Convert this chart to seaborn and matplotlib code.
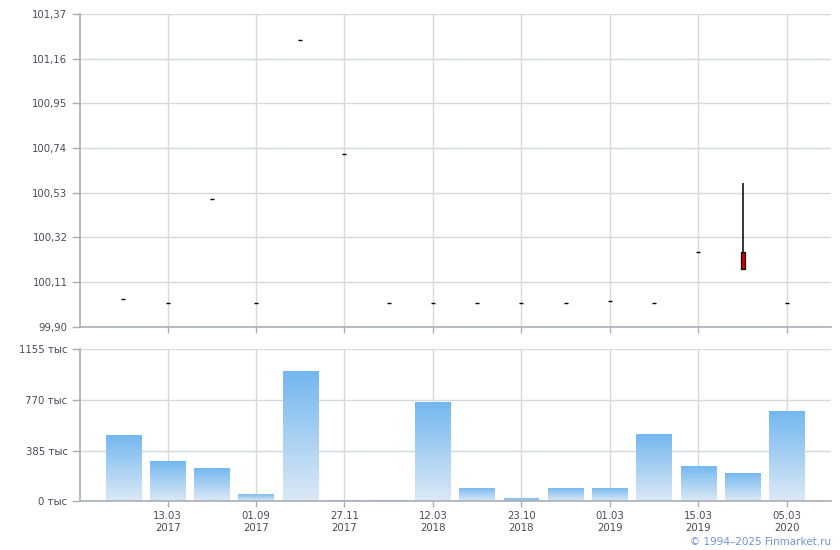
import numpy as np
import pandas as pd
import matplotlib
matplotlib.use("Agg")
import matplotlib.pyplot as plt
import seaborn as sns
from matplotlib.colors import LinearSegmentedColormap

# ---- data ----
idx = list(range(16))
open_ = [100.03, 100.01, 100.50, 100.01, 101.25, 100.71, 100.01, 100.01,
         100.01, 100.01, 100.01, 100.02, 100.01, 100.25, 100.25, 100.01]
close = [100.03, 100.01, 100.50, 100.01, 101.25, 100.71, 100.01, 100.01,
         100.01, 100.01, 100.01, 100.02, 100.01, 100.25, 100.17, 100.01]
high = [100.03, 100.01, 100.50, 100.01, 101.25, 100.71, 100.01, 100.01,
        100.01, 100.01, 100.01, 100.02, 100.01, 100.25, 100.575, 100.01]
low = [100.03, 100.01, 100.50, 100.01, 101.25, 100.71, 100.01, 100.01,
       100.01, 100.01, 100.01, 100.02, 100.01, 100.25, 100.17, 100.01]
volume = [503, 306, 253, 55, 989, 10, 10, 754, 101, 25, 101, 101, 511, 268, 215, 686]

price_ticks = [99.90, 100.11, 100.32, 100.53, 100.74, 100.95, 101.16, 101.37]
vol_ticks = [0, 385, 770, 1155]
date_tick_pos = [1, 3, 5, 7, 9, 11, 13, 15]
date_labels = ["13.03\n2017", "01.09\n2017", "27.11\n2017", "12.03\n2018",
               "23.10\n2018", "01.03\n2019", "15.03\n2019", "05.03\n2020"]

df = pd.DataFrame({"idx": idx, "open": open_, "close": close,
                   "high": high, "low": low, "volume": volume})

sns.set_theme(style="white")
plt.rcParams["font.family"] = ["DejaVu Sans"]

TXT = "#4a4a5a"
GRID = "#d3d9dd"
SPINE = "#a9aeb6"

fig = plt.figure(figsize=(8.4, 5.5), dpi=100)
ax1 = fig.add_axes([80/840, 1-326.7/550, 751/840, (326.7-14)/550])
ax2 = fig.add_axes([80/840, 1-501.3/550, 751/840, (501.3-349.3)/550])

# ---- price panel ----
body_w = 0.045
for _, r in df.iterrows():
    x = r["idx"]
    if r["high"] > max(r["open"], r["close"]) or r["low"] < min(r["open"], r["close"]):
        ax1.vlines(x, r["low"], r["high"], color="black", lw=1.1, zorder=3)
    if abs(r["open"] - r["close"]) < 1e-9:
        ax1.hlines(r["close"], x - body_w, x + body_w, color="black", lw=1.0, zorder=4)
    else:
        bottom = min(r["open"], r["close"])
        col = "#d40000" if r["close"] < r["open"] else "#ffffff"
        ax1.bar(x, abs(r["open"] - r["close"]), bottom=bottom, width=2*body_w,
                color=col, edgecolor="black", linewidth=0.9, zorder=4)

ax1.set_xlim(-0.98, 16.0)
ax1.set_ylim(price_ticks[0], price_ticks[-1])
ax1.set_yticks(price_ticks)
ax1.set_yticklabels([f"{v:.2f}".replace(".", ",") for v in price_ticks])
ax1.set_xticks(date_tick_pos)
ax1.set_xticklabels([])

# ---- volume panel ----
sns.barplot(data=df, x="idx", y="volume", ax=ax2, width=0.8,
            color="#8ec4ef", saturation=1, zorder=2)
ax2.set_xlim(-0.98, 16.0)
ax2.set_ylim(0, 1155)
ax2.set_yticks(vol_ticks)
ax2.set_yticklabels([f"{v} тыс" for v in vol_ticks])
ax2.set_xticks(date_tick_pos)
ax2.set_xticklabels(date_labels)
ax2.set_xlabel("")
ax2.set_ylabel("")

cmap = LinearSegmentedColormap.from_list("g", ["#dce9f6", "#72b7ef"])
grad = np.linspace(0, 1, 256).reshape(-1, 1)
for p in list(ax2.patches):
    x0, y0 = p.get_x(), p.get_y()
    w, h = p.get_width(), p.get_height()
    if h <= 40:
        p.set_edgecolor("none")
        continue
    im = ax2.imshow(grad, cmap=cmap, origin="lower", aspect="auto",
                    extent=[x0, x0 + w, y0, y0 + h], zorder=2.5)
    im.set_clip_path(p)
    p.set_facecolor("none")
    p.set_edgecolor("none")
ax2.set_xlim(-0.98, 16.0)
ax2.set_ylim(0, 1155)

for ax in (ax1, ax2):
    ax.grid(True, color=GRID, lw=1, zorder=0)
    ax.set_axisbelow(True)
    for s in ("top", "right"):
        ax.spines[s].set_visible(False)
    for s in ("left", "bottom"):
        ax.spines[s].set_color(SPINE)
        ax.spines[s].set_linewidth(1.2)
    ax.tick_params(axis="both", which="both", length=6, width=1, color=SPINE,
                   labelsize=7.3, labelcolor=TXT, pad=3, left=True, bottom=True)
    ax.tick_params(axis="x", length=4)

fig.text(831/840, 1-542/550, "© 1994–2025 Finmarket.ru", ha="right", va="center",
         fontsize=7.5, color="#6f93d9")

fig.savefig("out.png", dpi=100)
